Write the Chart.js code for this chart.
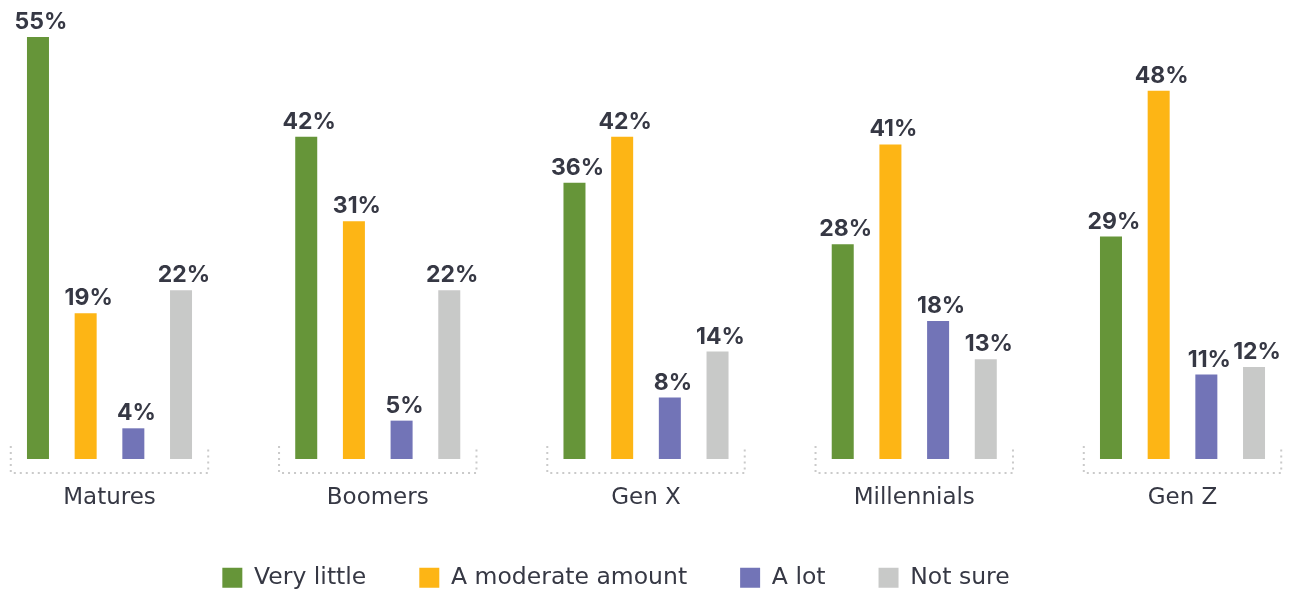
<!DOCTYPE html>
<html>
<head>
<meta charset="utf-8">
<title>Generations bar chart</title>
<script src="https://cdn.jsdelivr.net/npm/chart.js@4.4.1/dist/chart.umd.min.js"></script>
<style>
  body { margin: 0; background: #fff; }
  #chart { display: block; }
</style>
</head>
<body>
<canvas id="chart" width="1294" height="590"></canvas>
<script>
const generations = ['Matures', 'Boomers', 'Gen X', 'Millennials', 'Gen Z'];
const veryLittle = [55, 42, 36, 28, 29];
const moderateAmount = [19, 31, 42, 41, 48];
const aLot = [4, 5, 8, 18, 11];
const notSure = [22, 22, 14, 13, 12];
const seriesNames = ['Very little', 'A moderate amount', 'A lot', 'Not sure'];
const seriesColors = ['#669539', '#fdb515', '#7274b7', '#c8c9c8'];

const textColor = '#363844';
const labelFont = '"DejaVu Sans", sans-serif';
const valueFont = 'Inter, "DejaVu Sans", sans-serif';

// bars sit on a linear x scale so index i is the group centre
function toPoints(values) {
  return values.map((v, i) => ({ x: i, y: v }));
}

const seriesValues = [veryLittle, moderateAmount, aLot, notSure];

// dotted bracket under every group
const brackets = {
  id: 'brackets',
  beforeDatasetsDraw(chart) {
    const x = chart.scales.x;
    const bottom = chart.chartArea.bottom;
    const ctx = chart.ctx;
    ctx.save();
    ctx.strokeStyle = '#cacaca';
    ctx.lineWidth = 2;
    ctx.setLineDash([2, 4]);
    generations.forEach((g, i) => {
      const l = x.getPixelForValue(i - 0.368);
      const r = x.getPixelForValue(i + 0.368);
      ctx.beginPath();
      ctx.moveTo(l, bottom - 13);
      ctx.lineTo(l, bottom + 14);
      ctx.lineTo(r, bottom + 14);
      ctx.lineTo(r, bottom - 11);
      ctx.stroke();
    });
    ctx.restore();
  }
};

// percent labels above bars
const valueLabels = {
  id: 'valueLabels',
  afterDatasetsDraw(chart) {
    const ctx = chart.ctx;
    ctx.save();
    ctx.font = 'bold 23px ' + valueFont;
    ctx.fillStyle = textColor;
    ctx.textAlign = 'center';
    ctx.textBaseline = 'alphabetic';
    chart.data.datasets.forEach((ds, di) => {
      chart.getDatasetMeta(di).data.forEach((bar, i) => {
        ctx.fillText(ds.data[i].y + '%', bar.x + 3, bar.y - 8);
      });
    });
    ctx.restore();
  }
};

new Chart(document.getElementById('chart'), {
  type: 'bar',
  data: {
    datasets: seriesNames.map((name, k) => ({
      label: name,
      data: toPoints(seriesValues[k]),
      backgroundColor: seriesColors[k],
      borderWidth: 0,
      clip: false
    }))
  },
  options: {
    responsive: false,
    animation: false,
    layout: { padding: { top: 14, right: 62, left: 0, bottom: 0 } },
    datasets: {
      bar: { categoryPercentage: 0.711, barPercentage: 0.4615 }
    },
    scales: {
      x: {
        type: 'linear',
        min: -0.4082,
        max: 4.1845,
        bounds: 'data',
        offset: false,
        grid: { display: false, drawTicks: false },
        border: { display: false },
        ticks: {
          autoSkip: false,
          maxRotation: 0,
          padding: 25,
          color: textColor,
          font: { size: 23, family: labelFont },
          callback: (v) => generations[v] ?? ''
        },
        // one tick per generation
        afterBuildTicks: (scale) => {
          scale.ticks = generations.map((g, i) => ({ value: i }));
        },
        afterFit: (scale) => { scale.height = 54; }
      },
      y: { display: false, min: 0, max: 58 }
    },
    plugins: {
      legend: {
        position: 'bottom',
        maxHeight: 77,
        labels: {
          boxWidth: 20,
          boxHeight: 20,
          padding: 53,
          color: textColor,
          font: { size: 23.5, family: labelFont }
        }
      },
      tooltip: { enabled: false }
    }
  },
  plugins: [brackets, valueLabels]
});
</script>
</body>
</html>
